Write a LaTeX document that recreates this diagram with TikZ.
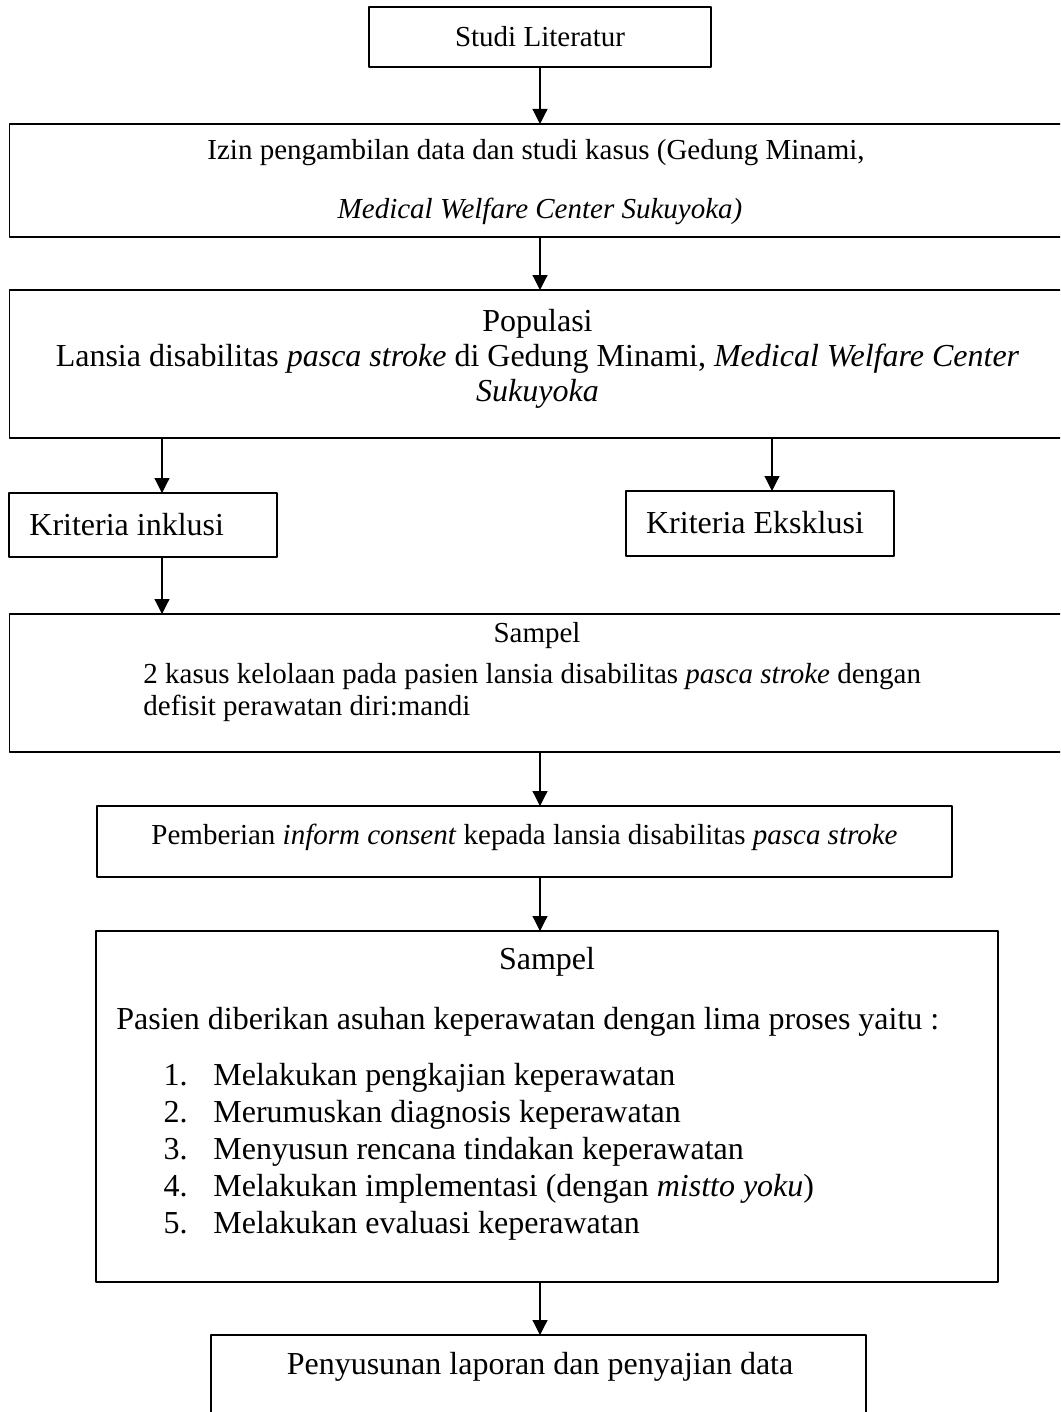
\documentclass[tikz,border=0pt]{standalone}
\usepackage{fontspec}
\setmainfont{Liberation Serif}
\usetikzlibrary{arrows.meta}

\tikzset{
  kotak/.style={draw, line width=0.6pt, inner sep=0pt, outer sep=0pt, anchor=north west},
  teks/.style={inner sep=0pt, font=\fontsize{16}{17.5}\selectfont},
  tekskecil/.style={inner sep=0pt, font=\fontsize{14.5}{15.5}\selectfont},
  panah/.style={-{Triangle[width=7.5pt,length=7.5pt]}, line width=0.6pt}
}

\begin{document}
\begin{tikzpicture}[x=0.5pt,y=-0.5pt,line join=round]
	\clip (0,0) rectangle (1060,1412);
	% kotak-kotak
	\node[kotak, minimum width=171pt, minimum height=30pt] (lit) at (369,7) {};
	\node[tekskecil] (lit-t) at (540,37) {Studi Literatur};
	\node[kotak, minimum width=530pt, minimum height=56.5pt] (izin) at (9.5,124) {};
	\node[tekskecil] (izin-a) at (536,153) {Izin pengambilan data dan studi kasus (Gedung Minami,};
	\node[tekskecil] (izin-b) at (540,211) {\textit{Medical Welfare Center Sukuyoka)}};
	\node[kotak, minimum width=530pt, minimum height=74pt] (pop) at (9.5,290) {};
	\node[teks, align=center] (pop-t) at (537.5,359) {Populasi\\Lansia disabilitas \textit{pasca stroke} di Gedung Minami, \textit{Medical Welfare Center}\\\textit{Sukuyoka}};
	\node[kotak, minimum width=134pt, minimum height=32pt] (inkl) at (9,493) {};
	\node[teks, anchor=west] (inkl-t) at (29,525) {Kriteria inklusi};
	\node[kotak, minimum width=134pt, minimum height=32.5pt] (eks) at (626,491) {};
	\node[teks] (eks-t) at (755,523) {Kriteria Eksklusi};
	\node[kotak, minimum width=530pt, minimum height=69pt] (sampel) at (9.5,614) {};
	\node[tekskecil] (sampel-a) at (537,636) {Sampel};
	\node[tekskecil, anchor=west] (sampel-b) at (143,677) {2 kasus kelolaan pada pasien lansia disabilitas \textit{pasca stroke} dengan};
	\node[tekskecil, anchor=west] (sampel-c) at (143,708) {defisit perawatan diri:mandi};
	\node[kotak, minimum width=427.5pt, minimum height=35.5pt] (inform) at (97,806) {};
	\node[tekskecil] (inform-t) at (524.5,837) {Pemberian \textit{inform consent} kepada lansia disabilitas \textit{pasca stroke}};
	\node[kotak, minimum width=451pt, minimum height=175.5pt] (proses) at (96,931) {};
	\node[teks] (proses-a) at (547,962) {Sampel};
	\node[teks, anchor=west] (proses-b) at (116,1022) {Pasien diberikan asuhan keperawatan dengan lima proses yaitu :};
	\foreach \i/\isi in {1/{Melakukan pengkajian keperawatan},
	                     2/{Merumuskan diagnosis keperawatan},
	                     3/{Menyusun rencana tindakan keperawatan},
	                     4/{Melakukan implementasi (dengan \textit{mistto yoku})},
	                     5/{Melakukan evaluasi keperawatan}}{
		\node[teks, anchor=base east] (no\i) at (188,1048+37*\i) {\i.};
		\node[teks, anchor=base west] (item\i) at (213,1048+37*\i) {\isi};
	}
	\node[kotak, minimum width=327.5pt, minimum height=60pt] (lapor) at (211,1335) {};
	\node[teks] (lapor-t) at (540,1367) {Penyusunan laporan dan penyajian data};
	% panah
	\coordinate (tengah) at (540,0);
	\coordinate (kiri) at (162,0);
	\coordinate (kanan) at (772,0);
	\draw[panah] (tengah |- lit.south) -- (tengah |- izin.north);
	\draw[panah] (tengah |- izin.south) -- (tengah |- pop.north);
	\draw[panah] (kiri |- pop.south) -- (kiri |- inkl.north);
	\draw[panah] (kanan |- pop.south) -- (kanan |- eks.north);
	\draw[panah] (kiri |- inkl.south) -- (kiri |- sampel.north);
	\draw[panah] (tengah |- sampel.south) -- (tengah |- inform.north);
	\draw[panah] (tengah |- inform.south) -- (tengah |- proses.north);
	\draw[panah] (tengah |- proses.south) -- (tengah |- lapor.north);
\end{tikzpicture}
\end{document}
